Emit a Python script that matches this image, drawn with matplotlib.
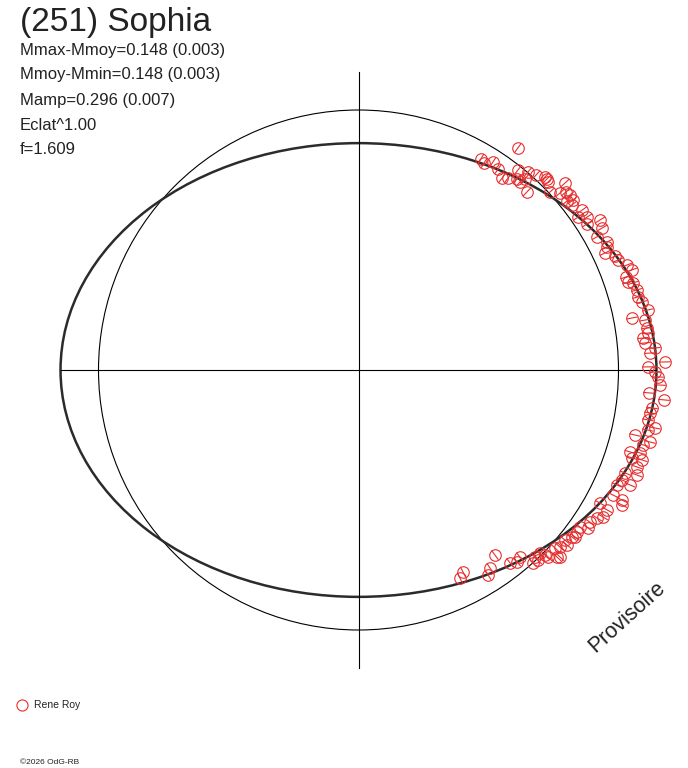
import numpy as np
import matplotlib.pyplot as plt
from matplotlib.patches import Ellipse, Circle
from matplotlib.collections import LineCollection

plt.rcParams['font.family'] = ['Liberation Sans', 'DejaVu Sans']

# lightcurve parameters (magnitudes)
mmax_mmoy = 0.148
mmoy_mmin = 0.148
info_lines = ["Mmax-Mmoy=0.148 (0.003)", "Mmoy-Mmin=0.148 (0.003)",
              "Mamp=0.296 (0.007)", "Eclat^1.00", "f=1.609"]

# observations, relative flux projected on the rotation plane (mean flux = 1)
obs_x = [0.613, 0.471, 0.483, 0.517, 0.537, 0.552, 0.575, 0.610, 0.613, 0.652,
         0.640, 0.648, 0.683, 0.717, 0.725, 0.737, 0.794, 0.775, 0.798, 0.813,
         0.825, 0.802, 0.821, 0.860, 0.844, 0.879, 0.879, 0.929, 0.937, 0.917,
         0.956, 0.956, 0.948, 0.987, 0.998, 1.033, 1.052, 1.029, 1.037, 1.056,
         1.071, 1.075, 1.090, 1.113, 1.052, 1.102, 1.110, 1.113, 1.094, 1.102,
         1.140, 1.121, 1.179, 1.113, 1.140, 1.152, 1.160, 1.117, 1.175, 1.129,
         1.121, 1.113, 1.140, 1.113, 1.063, 1.121, 1.094, 1.044, 1.083, 1.090,
         1.052, 1.071, 1.071, 1.025, 1.013, 1.044, 0.994, 1.013, 1.013, 0.979,
         0.929, 0.956, 0.940, 0.917, 0.890, 0.883, 0.852, 0.840, 0.821, 0.794,
         0.802, 0.775, 0.756, 0.775, 0.729, 0.698, 0.679, 0.671, 0.621, 0.610,
         0.583, 0.525, 0.506, 0.498, 0.402, 0.390, 0.690, 0.763, 0.833, 0.717,
         0.621, 0.729]
obs_y = [0.854, 0.812, 0.796, 0.800, 0.773, 0.738, 0.738, 0.735, 0.769, 0.762,
         0.735, 0.685, 0.750, 0.742, 0.735, 0.685, 0.719, 0.681, 0.685, 0.673,
         0.654, 0.650, 0.635, 0.615, 0.588, 0.588, 0.562, 0.577, 0.546, 0.512,
         0.492, 0.473, 0.450, 0.438, 0.423, 0.404, 0.385, 0.358, 0.338, 0.335,
         0.308, 0.281, 0.262, 0.231, 0.200, 0.192, 0.162, 0.142, 0.123, 0.104,
         0.085, 0.065, 0.031, 0.012, -0.008, -0.027, -0.058, -0.088, -0.115, -0.146,
         -0.165, -0.192, -0.223, -0.231, -0.250, -0.277, -0.288, -0.315, -0.319, -0.346,
         -0.338, -0.373, -0.404, -0.396, -0.423, -0.442, -0.442, -0.500, -0.519, -0.481,
         -0.512, -0.538, -0.565, -0.569, -0.585, -0.608, -0.604, -0.623, -0.642, -0.654,
         -0.673, -0.681, -0.685, -0.719, -0.719, -0.704, -0.719, -0.742, -0.719, -0.738,
         -0.742, -0.712, -0.762, -0.788, -0.777, -0.800, -0.731, -0.719, -0.642, -0.712,
         0.723, 0.723]

a = 10 ** (0.4 * mmax_mmoy)
b = 10 ** (-0.4 * mmoy_mmin)

fig = plt.figure(figsize=(6.88, 7.68), dpi=100)
ax = fig.add_axes([0, 0, 1, 1])
ax.set_xlim(-358.5 / 260, (688 - 358.5) / 260)
ax.set_ylim(-(768 - 370) / 260, 370 / 260)
ax.axis('off')

ax.plot([-a, a], [0, 0], color='black', lw=0.8)
ax.plot([0, 0], [-a, a], color='black', lw=0.8)
ax.add_patch(Circle((0, 0), 1.0, fill=False, ec='black', lw=0.8))
ax.add_patch(Ellipse((0, 0), 2 * a, 2 * b, fill=False, ec='#2b2b2b', lw=1.8))

red = '#e62e2e'
x = np.array(obs_x)
y = np.array(obs_y)
ax.plot(x, y, 'o', ms=8.3, mfc='none', mec=red, mew=0.8)
r = np.hypot(x, y)
s = 5.7 / 260
segs = [[(xi - s * xi / ri, yi - s * yi / ri), (xi + s * xi / ri, yi + s * yi / ri)]
        for xi, yi, ri in zip(x, y, r)]
ax.add_collection(LineCollection(segs, colors=red, linewidths=0.8))

fig.text(20 / 688, 1 - 22 / 768, "(251) Sophia", fontsize=24, color='#222222', va='center')
for i, line in enumerate(info_lines):
    fig.text(20 / 688, 1 - (50 + 25 * i) / 768, line, fontsize=12, color='#222222', va='center')

fig.text(627 / 688, 1 - 617 / 768, "Provisoire", fontsize=15.5, rotation=42,
         ha='center', va='center', color='#222222')

ax.plot([(22 - 358.5) / 260], [(370 - 705) / 260], 'o', ms=8, mfc='none', mec=red, mew=0.8)
fig.text(34 / 688, 1 - 705 / 768, "Rene Roy", fontsize=7.5, color='#222222', va='center')
fig.text(20 / 688, 1 - 763 / 768, "\u00a92026 OdG-RB", fontsize=6, color='#222222', va='center')

fig.savefig('out.png', dpi=100)
